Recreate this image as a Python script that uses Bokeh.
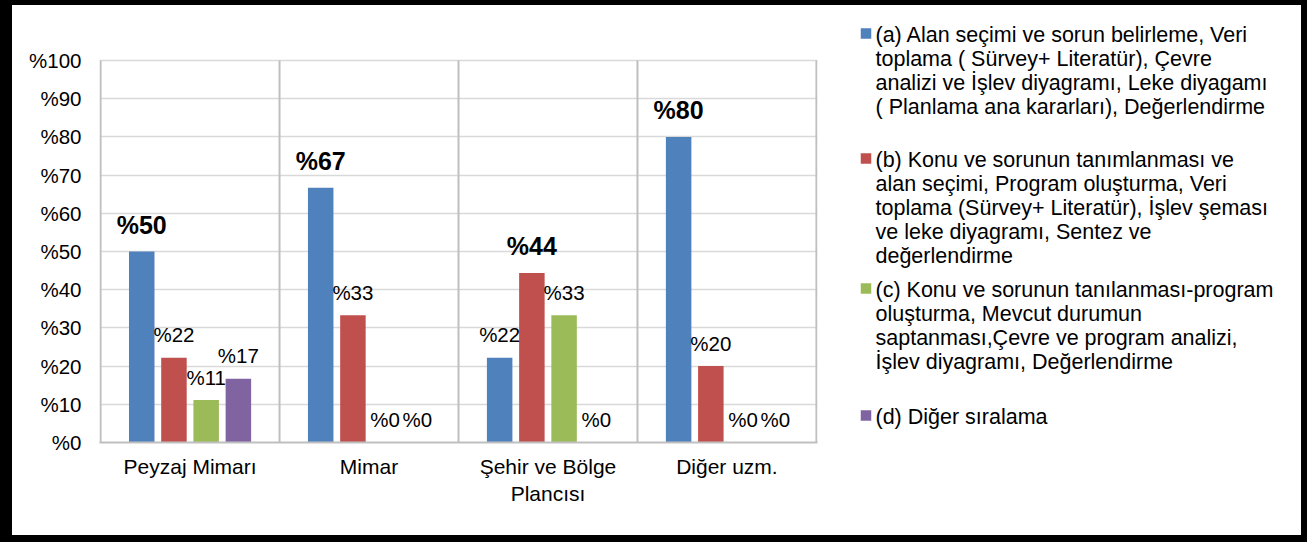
import numpy as np
from bokeh.plotting import figure
from bokeh.models import Range1d, FixedTicker, ColumnDataSource
from bokeh.layouts import row
from bokeh.core.properties import value
from bokeh.embed import file_html
from bokeh.resources import INLINE

# ---------------- data ----------------
categories = ["Peyzaj Mimarı", "Mimar", "Şehir ve Bölge\nPlancısı", "Diğer uzm."]
series_a = [50.0, 66.7, 22.2, 80.0]
series_b = [22.2, 33.3, 44.4, 20.0]
series_c = [11.1, 0.0, 33.3, 0.0]
series_d = [16.7, 0.0, 0.0, 0.0]
series_colors = ["#4F81BD", "#C0504D", "#9BBB59", "#8064A2"]
y_ticks = [0, 10, 20, 30, 40, 50, 60, 70, 80, 90, 100]
y_tick_labels = ["%" + str(t) for t in y_ticks]
legend_a = ["(a) Alan seçimi ve sorun belirleme, Veri",
            "toplama ( Sürvey+ Literatür), Çevre",
            "analizi ve İşlev diyagramı, Leke diyagamı",
            "( Planlama ana kararları), Değerlendirme"]
legend_b = ["(b) Konu ve sorunun tanımlanması ve",
            "alan seçimi, Program oluşturma, Veri",
            "toplama (Sürvey+ Literatür), İşlev şeması",
            "ve leke diyagramı, Sentez ve",
            "değerlendirme"]
legend_c = ["(c) Konu ve sorunun tanılanması-program",
            "oluşturma, Mevcut durumun",
            "saptanması,Çevre ve program analizi,",
            "İşlev diyagramı, Değerlendirme"]
legend_d = ["(d) Diğer sıralama"]

FONT = "Liberation Sans"
series = [series_a, series_b, series_c, series_d]
legends = [legend_a, legend_b, legend_c, legend_d]

# ---------------- layout constants (pixels) ----------------
CH_W, H = 829, 530
FRAME_TOP_PX = 55      # where 100% sits inside the canvas
FRAME_BOTTOM_PX = 437  # where 0% sits inside the canvas
y_max = max(y_ticks)
y_top = y_max * FRAME_BOTTOM_PX / (FRAME_BOTTOM_PX - FRAME_TOP_PX)

n_cat = len(categories)
pad = 0.006

# ---------------- chart ----------------
p = figure(width=CH_W, height=H, x_range=Range1d(-pad, n_cat + pad), y_range=Range1d(0, y_top),
           output_backend="svg", toolbar_location=None,
           min_border_left=87, min_border_right=24, min_border_top=0,
           min_border_bottom=H - FRAME_BOTTOM_PX)
p.outline_line_color = None
p.background_fill_color = "white"
p.border_fill_color = "white"

centers = np.arange(n_cat) + 0.5
edges = np.arange(n_cat + 1)
bar_w = 0.1425
step = 0.18

# horizontal grid
p.ygrid.ticker = FixedTicker(ticks=y_ticks[1:])
p.ygrid.grid_line_color = "#D9D9D9"
p.ygrid.grid_line_width = 1.5
p.xgrid.visible = False
# vertical separators (category boundaries) from 0 to 100 %
p.segment(x0=edges, y0=[0] * len(edges), x1=edges, y1=[y_max] * len(edges),
          line_color="#BFBFBF", line_width=2)

for j, vals in enumerate(series):
    xs = centers + (j - 1.5) * step
    p.vbar(x=xs, top=vals, width=bar_w, bottom=0, color=series_colors[j], line_color=None)

# data labels
lx, ly, lt, lsize, lstyle, loff = [], [], [], [], [], []
for i in range(n_cat):
    vals_i = [s[i] for s in series]
    mx = max(vals_i)
    for j, v in enumerate(vals_i):
        lx.append(centers[i] + (j - 1.5) * step)
        ly.append(v)
        lt.append("%" + f"{v:.0f}")
        if v == mx:
            lsize.append("25px"); lstyle.append("bold"); loff.append(-27)
        else:
            lsize.append("20.5px"); lstyle.append("normal"); loff.append(-23)

src = ColumnDataSource(dict(x=lx, y=ly, t=lt, size=lsize, style=lstyle, off=loff))
p.text(x="x", y="y", text="t", source=src, text_font=value(FONT), text_font_size="size",
       text_font_style="style", y_offset="off", text_align="center",
       text_baseline="alphabetic", text_color="black")

# axes
p.yaxis.ticker = FixedTicker(ticks=y_ticks)
p.yaxis.major_label_overrides = {t: l for t, l in zip(y_ticks, y_tick_labels)}
p.yaxis.major_tick_line_color = None
p.yaxis.minor_tick_line_color = None
p.yaxis.axis_line_color = None
p.yaxis.major_label_standoff = 12
p.yaxis.major_label_text_font = FONT
p.yaxis.major_label_text_font_size = "20.5px"
p.yaxis.major_label_text_color = "black"

p.xaxis.ticker = FixedTicker(ticks=list(centers))
p.xaxis.major_label_overrides = {float(c): l for c, l in zip(centers, categories)}
p.xaxis.major_tick_line_color = None
p.xaxis.minor_tick_line_color = None
p.xaxis.axis_line_color = "#BFBFBF"
p.xaxis.axis_line_width = 2
p.xaxis.major_label_standoff = 6
p.xaxis.major_label_text_font = FONT
p.xaxis.major_label_text_font_size = "21px"
p.xaxis.major_label_text_color = "black"

# ---------------- legend ----------------
LG_W = 1289 - CH_W
lg = figure(width=LG_W, height=H, x_range=Range1d(0, LG_W),
            y_range=Range1d(FRAME_BOTTOM_PX, 0),
            output_backend="svg", toolbar_location=None,
            min_border_left=0, min_border_right=0,
            min_border_top=0, min_border_bottom=H - FRAME_BOTTOM_PX)
lg.axis.visible = False
lg.grid.visible = False
lg.outline_line_color = None
lg.border_fill_color = "white"

first_line_y = [29, 154, 284, 411]
line_h = 24
x0 = 1307 - 6 - LG_W  # page x of legend canvas
tx, ty, tt = [], [], []
sqx, sqy, sqc = [], [], []
for k, lines in enumerate(legends):
    sqx.append(865.5 - x0)
    sqy.append(first_line_y[k] - 1)
    sqc.append(series_colors[k])
    for m, line in enumerate(lines):
        tx.append(875 - x0)
        ty.append(first_line_y[k] + m * line_h)
        tt.append(line)
lg.rect(x=sqx, y=sqy, width=10.5, height=10.5, color=sqc, line_color=None)
lg.text(x=tx, y=ty, text=tt, text_font=value(FONT), text_font_size="21.5px",
        text_align="left", text_baseline="middle", text_color="black")

layout = row(p, lg, styles={"border-style": "solid", "border-color": "black",
                            "border-width": "5px 6px 7px 12px"})

with open("out.html", "w") as f:
    f.write(file_html(layout, INLINE))
